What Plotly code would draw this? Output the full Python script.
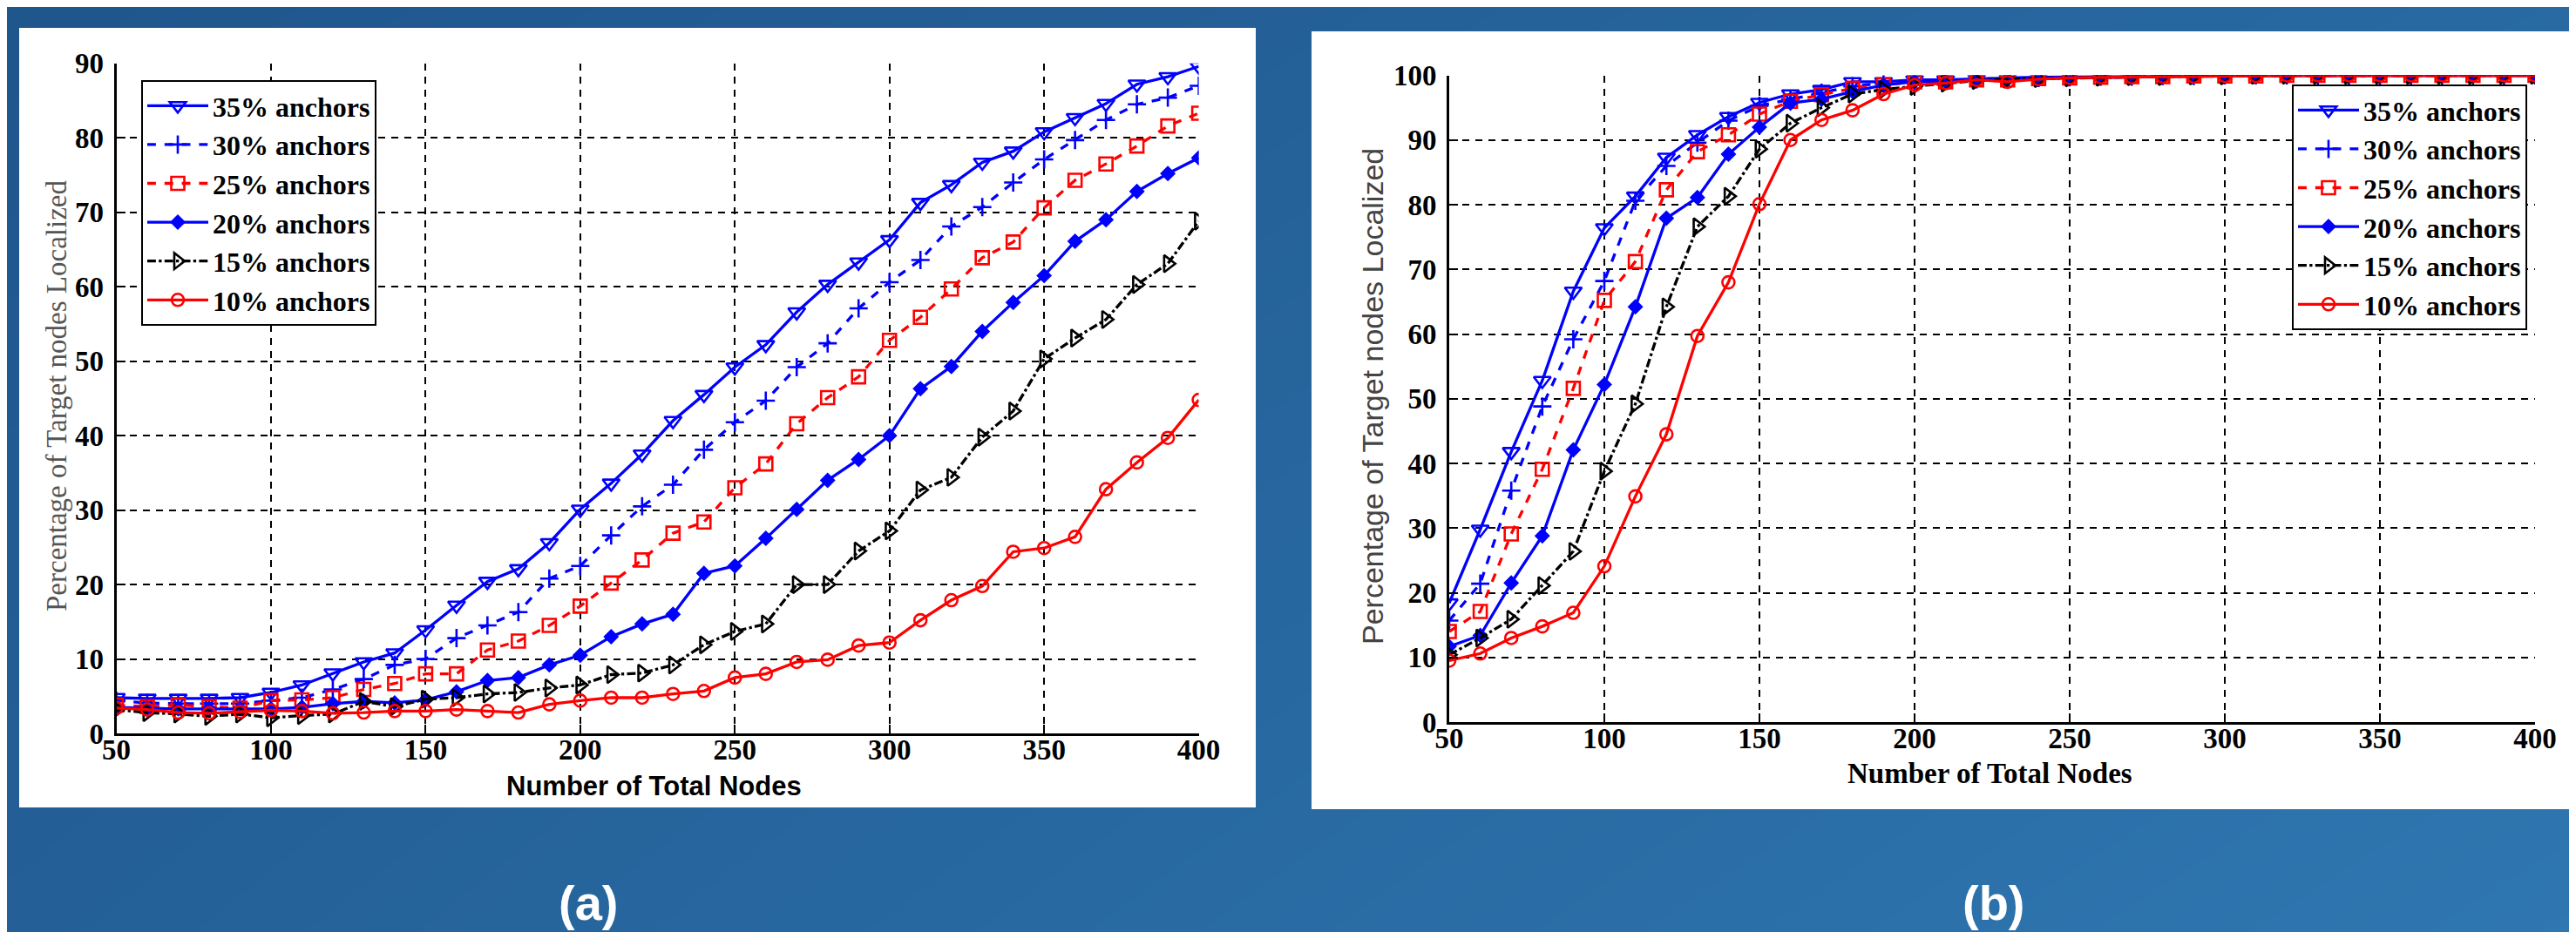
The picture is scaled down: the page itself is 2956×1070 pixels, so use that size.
import plotly.graph_objects as go

# ---------------- data ----------------
nodes = list(range(50, 401, 10))
series_names = ["35% anchors", "30% anchors", "25% anchors", "20% anchors", "15% anchors", "10% anchors"]

# panel (a)
a_35 = [4.8, 4.7, 4.7, 4.7, 4.8, 5.5, 6.5, 8.1, 9.6, 10.8, 13.9, 17.2, 20.4, 22.1, 25.6, 30.1, 33.6, 37.5,
        42.0, 45.5, 49.2, 52.2, 56.6, 60.3, 63.3, 66.3, 71.3, 73.7, 76.7, 78.2, 80.8, 82.7, 84.6, 87.2, 88.2, 89.6]
a_30 = [4.4, 4.1, 4.0, 4.0, 4.0, 4.4, 4.8, 5.9, 7.3, 9.2, 10.0, 12.8, 14.5, 16.3, 20.8, 22.5, 26.6, 30.5,
        33.4, 38.1, 41.8, 44.7, 49.2, 52.4, 57.1, 60.6, 63.6, 68.1, 70.7, 74.0, 77.1, 79.7, 82.4, 84.5, 85.4, 87.0]
a_25 = [3.8, 3.6, 3.8, 3.6, 3.4, 4.4, 4.5, 4.8, 5.9, 6.7, 8.0, 8.0, 11.2, 12.4, 14.5, 17.1, 20.2, 23.3,
        26.9, 28.4, 33.0, 36.2, 41.6, 45.1, 47.9, 52.8, 55.9, 59.7, 63.9, 66.0, 70.6, 74.3, 76.5, 78.9, 81.6, 83.3]
a_20 = [3.5, 3.4, 3.3, 3.3, 3.3, 3.3, 3.5, 4.0, 4.3, 4.1, 4.5, 5.6, 7.1, 7.5, 9.2, 10.5, 13.0, 14.7,
        16.0, 21.5, 22.5, 26.2, 30.1, 34.0, 36.8, 40.0, 46.3, 49.3, 54.0, 57.9, 61.5, 66.1, 69.0, 72.8, 75.2, 77.3]
a_15 = [3.2, 2.8, 2.6, 2.3, 2.6, 2.1, 2.4, 2.6, 4.3, 3.6, 4.6, 4.8, 5.3, 5.5, 6.1, 6.5, 7.9, 8.1,
        9.2, 11.9, 13.7, 14.7, 20.0, 20.0, 24.5, 27.2, 32.7, 34.4, 39.8, 43.3, 50.3, 53.1, 55.6, 60.3, 63.1, 68.8]
a_10 = [3.4, 3.2, 2.8, 2.7, 2.9, 3.1, 3.0, 2.7, 2.8, 3.0, 3.0, 3.2, 3.0, 2.8, 3.9, 4.4, 4.8, 4.8,
        5.3, 5.7, 7.5, 8.0, 9.6, 9.9, 11.8, 12.2, 15.2, 17.9, 19.8, 24.4, 24.9, 26.4, 32.8, 36.4, 39.7, 44.8]

# panel (b)
b_35 = [18.4, 29.8, 41.8, 52.8, 66.6, 76.4, 81.3, 87.3, 90.8, 93.6, 95.8, 97.1, 97.8, 99.0, 99.0, 99.3, 99.3, 99.5,
        99.6, 99.7, 99.8, 99.9, 99.9, 99.9, 100, 100, 100, 100, 100, 100, 100, 100, 100, 100, 100, 100]
b_30 = [15.7, 21.4, 35.8, 48.8, 59.2, 68.2, 80.6, 86.0, 89.6, 93.0, 95.3, 96.3, 97.3, 98.3, 98.8, 99.2, 99.2, 99.4,
        99.5, 99.6, 99.7, 99.8, 99.8, 99.9, 99.9, 100, 100, 100, 100, 100, 100, 100, 100, 100, 100, 100]
b_25 = [14.0, 17.1, 29.1, 39.1, 51.6, 65.2, 71.2, 82.3, 88.2, 90.8, 94.0, 96.0, 97.0, 98.0, 98.5, 99.0, 99.0, 99.3,
        99.3, 99.5, 99.6, 99.7, 99.8, 99.8, 99.9, 99.9, 99.9, 100, 100, 100, 100, 100, 100, 100, 100, 100]
b_20 = [11.7, 13.4, 21.5, 28.8, 42.1, 52.2, 64.2, 77.9, 81.1, 87.8, 92.0, 95.7, 96.3, 97.5, 98.5, 99.0, 99.1, 99.3,
        99.4, 99.5, 99.6, 99.7, 99.8, 99.8, 99.9, 99.9, 100, 100, 100, 100, 100, 100, 100, 100, 100, 100]
b_15 = [10.4, 13.0, 15.9, 21.1, 26.4, 38.8, 49.2, 64.2, 76.6, 81.3, 88.6, 92.6, 95.0, 97.1, 97.8, 98.3, 98.8, 99.2,
        99.4, 99.5, 99.6, 99.7, 99.8, 99.8, 99.9, 99.9, 100, 100, 100, 100, 100, 100, 100, 100, 100, 100]
b_10 = [9.5, 10.6, 13.0, 14.8, 16.9, 24.1, 34.9, 44.5, 59.7, 68.0, 80.1, 90.0, 93.1, 94.6, 97.1, 98.5, 98.8, 99.3,
        99.0, 99.4, 99.6, 99.7, 99.7, 99.8, 99.8, 99.9, 99.9, 100, 100, 100, 100, 100, 100, 100, 100, 100]

x_ticks = [50, 100, 150, 200, 250, 300, 350, 400]
a_y_ticks = list(range(0, 91, 10))
b_y_ticks = list(range(0, 101, 10))

panel_labels = ["(a)", "(b)"]
y_title = "Percentage of Target nodes Localized"
x_title = "Number of Total Nodes"

# ---------------- styles ----------------
BLUE = "#0000ff"
RED = "#ff0000"
BLACK = "#000000"
styles = [
    dict(color=BLUE, dash="solid", symbol="triangle-down-open", size=17),
    dict(color=BLUE, dash="dash", symbol="cross-thin-open", size=15),
    dict(color=RED, dash="dash", symbol="square-open", size=15),
    dict(color=BLUE, dash="solid", symbol="diamond", size=11),
    dict(color=BLACK, dash="dashdot", symbol="triangle-right-open", size=17),
    dict(color=RED, dash="solid", symbol="circle-open", size=14),
]

W, H = 2956, 1070
fig = go.Figure()

# background gradient (decoration) on its own full-page axes
fig.add_trace(go.Heatmap(
    x=[0, 1], y=[0, 1], z=[[0.3, 1.0], [0.0, 0.6]], zsmooth="best",
    colorscale=[[0, "#1f568c"], [1, "#2f77b1"]], showscale=False, hoverinfo="skip",
    xaxis="x", yaxis="y"))
# white panels
for (px0, px1, py0, py1) in [(14, 1433, 24, 919), (1497, 2956, 28, 921)]:
    fig.add_trace(go.Scatter(
        x=[px0 / W, px1 / W, px1 / W, px0 / W, px0 / W],
        y=[1 - py0 / H, 1 - py0 / H, 1 - py1 / H, 1 - py1 / H, 1 - py0 / H],
        fill="toself", fillcolor="white", mode="lines", line=dict(width=0, color="white"),
        showlegend=False, hoverinfo="skip", xaxis="x", yaxis="y"))

data_a = [a_35, a_30, a_25, a_20, a_15, a_10]
data_b = [b_35, b_30, b_25, b_20, b_15, b_10]

for name, vals, st in zip(series_names, data_a, styles):
    fig.add_trace(go.Scatter(
        x=nodes, y=vals, name=name, mode="lines+markers",
        line=dict(color=st["color"], dash=st["dash"], width=3.3),
        marker=dict(symbol=st["symbol"], size=st["size"], color=st["color"],
                    line=dict(color=st["color"], width=2.6)),
        xaxis="x2", yaxis="y2", legend="legend"))

for name, vals, st in zip(series_names, data_b, styles):
    fig.add_trace(go.Scatter(
        x=nodes, y=vals, name=name, mode="lines+markers",
        line=dict(color=st["color"], dash=st["dash"], width=3.3),
        marker=dict(symbol=st["symbol"], size=st["size"], color=st["color"],
                    line=dict(color=st["color"], width=2.6)),
        xaxis="x3", yaxis="y3", legend="legend2"))

tick_font = dict(family="Liberation Serif", size=33, color="black", weight="bold")
common_x = dict(range=[50, 400], tickvals=x_ticks, showgrid=True, gridcolor="black", gridwidth=2,
                griddash="8px,7px", showline=True, linecolor="black", linewidth=3, ticks="inside",
                ticklen=10, tickwidth=2, tickcolor="black", zeroline=False, tickfont=tick_font,
                ticklabelstandoff=-13)
common_y = dict(showgrid=True, gridcolor="black", gridwidth=2, griddash="8px,7px",
                showline=True, linecolor="black", linewidth=3, ticks="inside", ticklen=10,
                tickwidth=2, tickcolor="black", zeroline=False, tickfont=tick_font,
                ticklabelstandoff=5)

legend_common = dict(bgcolor="white", bordercolor="black", borderwidth=2,
                     font=dict(family="Liberation Serif", size=32, color="black", weight="bold"),
                     itemwidth=70, tracegroupgap=0)

fig.update_layout(
    width=W, height=H, margin=dict(l=0, r=0, t=0, b=0),
    template="none", paper_bgcolor="#2a6aa3", plot_bgcolor="white",
    showlegend=True,
    xaxis=dict(domain=[0, 1], range=[0, 1], visible=False, fixedrange=True),
    yaxis=dict(domain=[0, 1], range=[0, 1], visible=False, fixedrange=True),
    xaxis2=dict(domain=[125.5 / W, 1367.6 / W], anchor="y2", **common_x),
    yaxis2=dict(domain=[1 - 834 / H, 1 - 64.8 / H], anchor="x2", range=[0, 90],
                tickvals=a_y_ticks, **common_y),
    xaxis3=dict(domain=[1655 / W, 2901 / W], anchor="y3", **common_x),
    yaxis3=dict(domain=[1 - 821 / H, 1 - 78.5 / H], anchor="x3", range=[0, 100],
                tickvals=b_y_ticks, **common_y),
    legend=dict(x=154 / W, y=1 - 84 / H, xanchor="left", yanchor="top", **legend_common),
    legend2=dict(x=2892 / W, y=1 - 89 / H, xanchor="right", yanchor="top", **legend_common),
)

annotations = [
    dict(text=y_title, x=57 / W, y=1 - 447 / H, textangle=-90, yanchor="middle",
         font=dict(family="Liberation Serif", size=33, color="#555555")),
    dict(text=y_title, x=1567 / W, y=1 - 447 / H, textangle=-90, yanchor="middle",
         font=dict(family="Liberation Sans", size=34, color="#444444")),
    dict(text=x_title, x=742 / W, y=1 - 894 / H, yanchor="middle",
         font=dict(family="Liberation Sans", size=31, color="black", weight="bold")),
    dict(text=x_title, x=2275 / W, y=1 - 880 / H, yanchor="middle",
         font=dict(family="Liberation Serif", size=33, color="black", weight="bold")),
    dict(text=panel_labels[0], x=667 / W, y=8 / H, yanchor="bottom",
         font=dict(family="Liberation Sans", size=56, color="white", weight="bold")),
    dict(text=panel_labels[1], x=2280 / W, y=8 / H, yanchor="bottom",
         font=dict(family="Liberation Sans", size=56, color="white", weight="bold")),
]
for a in annotations:
    a.update(xref="paper", yref="paper", xanchor="center", showarrow=False)
fig.update_layout(annotations=annotations)

fig.write_html("out.html")
